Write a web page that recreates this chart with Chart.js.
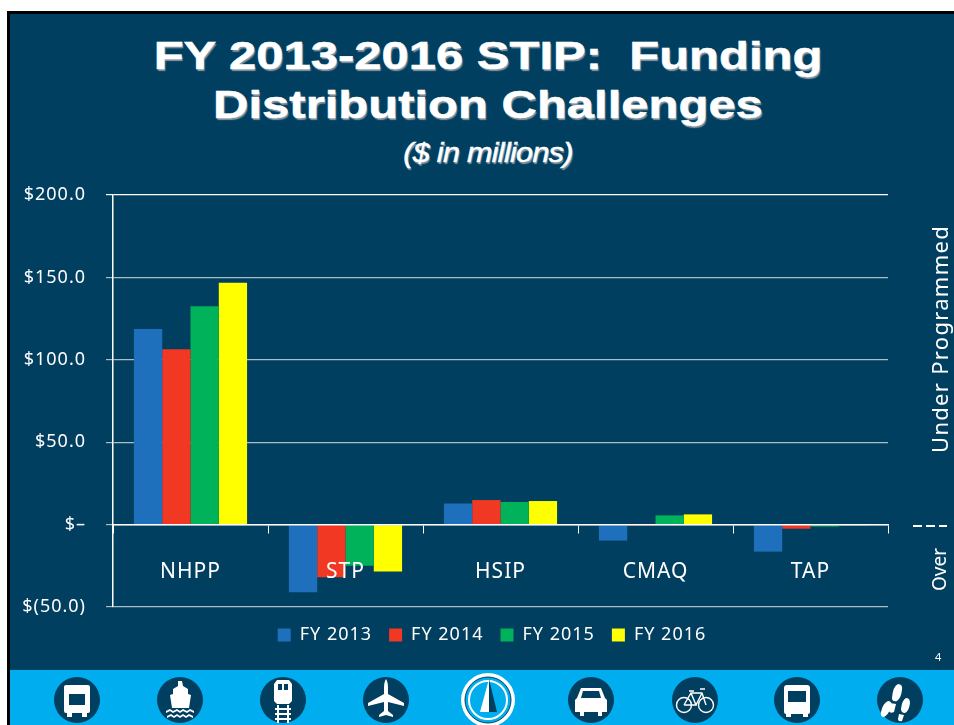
<!DOCTYPE html>
<html>
<head>
<meta charset="utf-8">
<title>FY 2013-2016 STIP</title>
<script src="https://cdn.jsdelivr.net/npm/chart.js@4"></script>
<style>
html, body { margin: 0; padding: 0; background: #fff; }
#page { position: relative; width: 954px; height: 725px; overflow: hidden; font-family: "Noto Sans", sans-serif; color: #fff; }
#slide { position: absolute; left: 7px; top: 11px; right: 0; bottom: 0; background: #003f5f; border-left: 3px solid #000; border-top: 3px solid #000; }
#band { position: absolute; left: 10px; top: 670px; right: 0; bottom: 0; background: #00adef; }
#myChart { position: absolute; left: 0; top: 0; }
.head { position: absolute; left: 0; width: 976px; text-align: center; font-family: "Liberation Sans", Arial, sans-serif; font-weight: bold; white-space: pre; text-shadow: 1px 2px 1px #8a98a3; -webkit-text-stroke: 0.5px #fff; }
#t1 { top: 34px; font-size: 39px; transform: scaleX(1.256); }
#t2 { top: 83px; font-size: 39px; transform: scaleX(1.256); }
#t3 { top: 138px; font-size: 27px; font-style: italic; font-weight: normal; letter-spacing: -0.6px; transform: scaleX(1.13); }
.side { position: absolute; transform: rotate(-90deg); transform-origin: left top; white-space: nowrap; }
#dash { position: absolute; left: 913px; top: 525px; width: 34px; height: 2px; background: repeating-linear-gradient(90deg, #fff 0 9px, transparent 9px 13px); }
#num { position: absolute; left: 935px; top: 649px; font-size: 11px; }
#icons { position: absolute; left: 0; top: 670px; }
</style>
</head>
<body>
<div id="page">
  <div id="slide"></div>
  <div id="band"></div>
  <div class="head" id="t1">FY 2013-2016 STIP:  Funding</div>
  <div class="head" id="t2">Distribution Challenges</div>
  <div class="head" id="t3">($ in millions)</div>
  <canvas id="myChart" width="954" height="725"></canvas>
  <div class="side" style="left:924px; top:453px; font-size:22px; letter-spacing:1.3px;">Under Programmed</div>
  <div class="side" style="left:926px; top:591px; font-size:19px;">Over</div>
  <div id="dash"></div>
  <div id="num">4</div>
  <svg id="icons" width="954" height="55" viewBox="0 0 954 55">
    <g fill="#003f5f">
      <circle cx="77" cy="30" r="23"/><circle cx="180" cy="30" r="23"/><circle cx="283" cy="30" r="23"/>
      <circle cx="386" cy="30" r="23"/><circle cx="591" cy="30" r="23"/><circle cx="695" cy="30" r="23"/>
      <circle cx="797" cy="30" r="23"/><circle cx="900" cy="30" r="23"/>
    </g>
    <g fill="#fff">
      <!-- bus -->
      <path fill-rule="evenodd" d="M66 15h22q2 0 2 2v24q0 2-2 2h-1v4h-5v-4h-10v4h-5v-4h-1q-2 0-2-2v-24q0-2 2-2zM69 24v11h16v-11z"/>
      <!-- ferry -->
      <path d="M178 11h4l1 5 5 3v5l3 1-2 13h-17l-2-13 3-1v-5l5-3z"/>
      <path d="M166 41l4-2 3 2 4-2 3 2 3-2 4 2 3-2 4 2v2l-4-2-3 2-4-2-3 2-3-2-4 2-3-2-4 2zM167 46l4-2 3 2 3-2 3 2 3-2 3 2 3-2 4 2v2l-4-2-3 2-3-2-3 2-3-2-3 2-3-2-4 2z"/>
      <!-- train -->
      <path fill-rule="evenodd" d="M277 10h12l3 4v17l-3 3h-12l-3-3v-17zM278 14v6h4v-6zM284 14v6h4v-6z"/>
      <path d="M277 35h2v18h-2zM287 35h2v18h-2zM275 38h16v2h-16zM275 43h16v2h-16zM275 48h16v2h-16z"/>
      <!-- plane -->
      <path d="M386 9q2 3 2 9v6l16 9v3l-16-4v9l5 4v2l-7-2-7 2v-2l5-4v-9l-16 4v-3l16-9v-6q0-6 2-9z"/>
      <!-- car -->
      <path fill-rule="evenodd" d="M581 18h20l4 10 2 2v12h-5v4h-4v-4h-14v4h-4v-4h-5v-12l2-2zM583 21l-2 7h20l-2-7z"/>
      <!-- bus 2 -->
      <path fill-rule="evenodd" d="M787 15h20q3 0 3 3v24q0 2-2 2v3h-5v-3h-12v3h-5v-3q-2 0-2-2v-24q0-3 3-3zM788 21v11h18v-11z"/>
      <!-- footprints -->
      <path d="M904 8q5 0 4 6-1 8-5 11-5 1-5-3 1-12 6-14zM896 27l6 1-2 8q-4 2-5-1zM894 25q5 0 3 7-3 7-7 9-4 0-3-5 2-9 7-11z" transform="translate(-6 6)"/>
      <path d="M906 28q4 0 4 5-1 8-5 10-4 0-4-4 1-9 5-11zM899 44l5 1-2 6q-4 1-4-2z"/>
    </g>
    <!-- bicycle -->
    <g fill="none" stroke="#fff" stroke-width="1.4">
      <circle cx="684" cy="35" r="7.5"/><circle cx="706" cy="35" r="7.5"/>
      <path d="M684 35l7-12h11l4 12M691 23l5 12-12 0M696 35l6-12M700 19h5M689 21h5"/>
    </g>
    <!-- compass -->
    <circle cx="488" cy="30" r="27" fill="#fff"/>
    <circle cx="488" cy="30" r="23" fill="#00adef" stroke="#003f5f" stroke-width="1"/>
    <circle cx="488" cy="30" r="19" fill="#00adef" stroke="#fff" stroke-width="2"/>
    <path d="M489 9v33h-9z" fill="#fff"/>
    <path d="M489 9l8 33h-8z" fill="#003f5f"/>
  </svg>
</div>
<script>
// valeurs, en millions de dollars
const categories = ["NHPP", "STP", "HSIP", "CMAQ", "TAP"];
const seriesNames = ["FY 2013", "FY 2014", "FY 2015", "FY 2016"];
const fy2013 = [118.7, -41, 12.8, -9.7, -16.4];
const fy2014 = [106.4, -32, 14.9, -0.6, -2.5];
const fy2015 = [132.5, -25, 13.7, 5.6, -1.2];
const fy2016 = [146.7, -28.4, 14.3, 6.2, -0.3];
const seriesColors = ["#1f70bc", "#f03823", "#00b259", "#ffff00"];
const yTickValues = [-50, 0, 50, 100, 150, 200];
const yTickLabels = ["$(50.0)", "$\u2013", "$50.0", "$100.0", "$150.0", "$200.0"];

const textSpacing = {
    id: "textSpacing",
    beforeUpdate(chart) { chart.ctx.letterSpacing = "1px"; },
    beforeDraw(chart) { chart.ctx.letterSpacing = "1px"; }
};

// la legende n'est pas centree sur le canvas dans l'original
const legendShift = {
    id: "legendShift",
    afterLayout(chart) {
        chart.legend.left += 43;
        chart.legend.right += 43;
        chart.legend.top += 2;
        chart.legend.bottom += 2;
    }
};

new Chart(document.getElementById("myChart"), {
    type: "bar",
    plugins: [textSpacing, legendShift],
    data: {
        labels: categories,
        datasets: [fy2013, fy2014, fy2015, fy2016].map((values, i) => ({
            label: seriesNames[i],
            data: values,
            backgroundColor: seriesColors[i],
            categoryPercentage: 0.73,
            barPercentage: 1
        }))
    },
    options: {
        responsive: false,
        animation: false,
        layout: { padding: { top: 195, left: 10, right: 66, bottom: 73 } },
        plugins: {
            tooltip: { enabled: false },
            legend: {
                position: "bottom",
                labels: { color: "#fff", boxWidth: 13, boxHeight: 13, padding: 17, font: { family: "Noto Sans", size: 18 } }
            }
        },
        scales: {
            x: {
                position: { y: 0 },
                offset: true,
                border: { color: "#fff", width: 1.5, z: 1 },
                grid: { offset: true, drawOnChartArea: false, drawTicks: true, tickLength: 8, color: "#fff" },
                ticks: { z: 1, color: "#fff", padding: 27, maxRotation: 0, font: { family: "Noto Sans", size: 21 } }
            },
            y: {
                min: -50,
                max: 200,
                afterFit(scale) { scale.width = 103; },
                afterBuildTicks(scale) { scale.ticks = yTickValues.map(v => ({ value: v })); },
                border: { color: "#fff", width: 1.5 },
                grid: {
                    tickLength: 7,
                    color: ctx => ctx.tick && ctx.tick.value === 200 ? "#fff" : "#a9bcc8",
                    lineWidth: 1.2
                },
                ticks: {
                    color: "#fff",
                    padding: 20,
                    font: { family: "Noto Sans", size: 18 },
                    callback: value => yTickLabels[yTickValues.indexOf(value)]
                }
            }
        }
    }
});
</script>
</body>
</html>
